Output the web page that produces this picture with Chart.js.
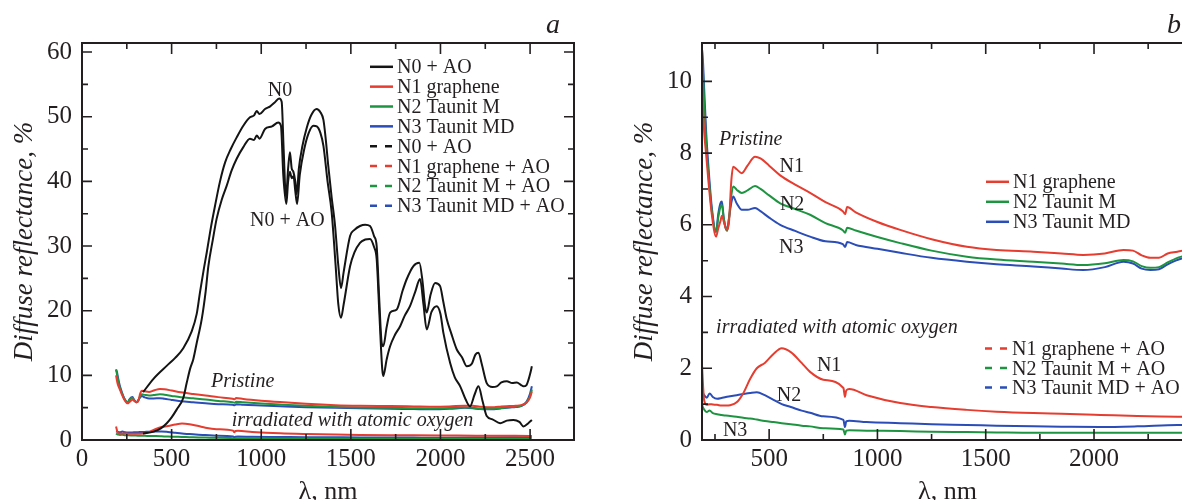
<!DOCTYPE html>
<html>
<head>
<meta charset="utf-8">
<script src="https://cdn.jsdelivr.net/npm/chart.js@4"></script>
<style>
  html, body { margin: 0; padding: 0; background: #fff; overflow: hidden; }
  #wrap { position: relative; width: 1182px; height: 500px; overflow: hidden; background: #fff; }
  canvas { position: absolute; top: 0; }
</style>
</head>
<body>
<div id="wrap">
  <canvas id="chartA" width="600" height="510" style="left:0px;width:600px;height:510px"></canvas>
  <canvas id="chartB" width="588" height="510" style="left:610px;width:588px;height:510px"></canvas>
</div>
<script>
// ---------------- DATA ----------------
// Pristine samples (shared wavelength grid, nm)
const wlPristine = [190,195,200,210,220,235,255,265,275,282,290,300,306,315,325,334,350,374,400,435,460,500,551,620,689,760,840,851,860,900,1000,1105,1250,1413,1550,1720,1850,1950,2050,2136,2180,2220,2260,2300,2340,2385,2420,2450,2480,2500,2510];
const n1Pristine = [10.0,9.2,8.6,7.9,7.2,6.3,5.67,5.9,6.1,6.25,6.1,5.9,5.86,6.1,7.2,7.62,7.55,7.44,7.65,7.9,7.85,7.65,7.38,7.12,6.89,6.63,6.38,6.3,6.5,6.35,6.08,5.86,5.6,5.39,5.3,5.25,5.2,5.16,5.2,5.3,5.28,5.15,5.08,5.08,5.2,5.25,5.3,5.4,5.8,6.6,7.5];
const n2Pristine = [10.9,10.2,9.4,8.2,7.4,6.4,5.81,6.2,6.5,6.55,6.2,5.9,5.83,6.2,6.8,7.07,6.98,6.89,6.96,7.08,7.0,6.82,6.6,6.44,6.28,6.05,5.85,5.78,5.92,5.84,5.66,5.49,5.28,5.11,5.03,4.97,4.92,4.88,4.93,5.02,4.98,4.85,4.8,4.82,4.95,5.08,5.15,5.3,5.8,6.8,7.8];
const n3Pristine = [10.9,10.5,9.8,8.5,7.6,6.5,5.8,6.3,6.6,6.65,6.2,5.9,5.85,6.2,6.6,6.79,6.6,6.42,6.42,6.47,6.38,6.2,6.0,5.83,5.67,5.54,5.46,5.38,5.52,5.44,5.33,5.22,5.08,4.97,4.9,4.84,4.78,4.74,4.82,4.97,4.92,4.78,4.74,4.76,4.9,5.02,5.1,5.25,5.9,7.2,8.3];

// Samples irradiated with atomic oxygen
const wlAO = [190,195,200,212,225,240,260,280,300,320,350,380,412,443,480,520,558,600,650,689,750,843,850,856,870,950,1105,1250,1413,1550,1720,1850,2028,2200,2385,2500,2510];
const n1AO = [2.1,1.5,1.1,0.98,1.0,0.99,0.98,0.96,0.96,0.97,1.05,1.3,1.7,2.0,2.15,2.4,2.56,2.45,2.15,1.9,1.68,1.45,1.2,1.38,1.42,1.25,1.03,0.92,0.84,0.79,0.75,0.73,0.7,0.67,0.65,0.63,0.62];
const n2AO = [1.0,0.9,0.85,0.78,0.82,0.75,0.72,0.7,0.68,0.67,0.65,0.62,0.6,0.57,0.53,0.5,0.47,0.44,0.4,0.38,0.33,0.29,0.15,0.26,0.27,0.26,0.25,0.23,0.22,0.21,0.2,0.2,0.2,0.2,0.2,0.21,0.22];
const n3AO = [1.35,1.3,1.25,1.18,1.3,1.2,1.15,1.17,1.2,1.22,1.25,1.28,1.31,1.33,1.25,1.12,1.0,0.92,0.82,0.76,0.66,0.56,0.36,0.52,0.54,0.5,0.47,0.44,0.42,0.4,0.38,0.37,0.36,0.38,0.42,0.45,0.5];

// N0 reference sample (pristine) and N0 + AO
const wlN0 = [341,400,474,520,565,612,640,658,680,696,720,742,770,798,830,863,900,937,960,975,990,1021,1050,1075,1100,1114,1125,1138,1150,1160,1170,1179,1190,1198,1210,1230,1254,1280,1309,1330,1347,1360,1374,1393,1412,1430,1445,1460,1496,1520,1551,1580,1607,1630,1644,1658,1672,1681,1700,1719,1756,1790,1812,1849,1882,1900,1914,1923,1945,1970,1998,2015,2035,2060,2091,2120,2147,2175,2195,2212,2230,2258,2290,2314,2340,2370,2400,2426,2450,2463,2480,2491,2500,2510];
const n0 = [7.4,9.5,11.5,12.7,14.2,16.8,19.5,22.8,26.5,29,33,36.2,40,42.9,45,46.8,48.6,49.9,50.2,50.9,50.4,51.2,51.6,52.2,52.8,52.3,45,37.5,42,44.5,42,41.5,40,38,42,45.5,48.3,50.3,51.2,50.7,49.5,46.5,42.4,37.5,33.1,27,23.5,26,31.6,32.5,33.1,33.3,33.1,31.5,30,22,15,14.5,17.5,19.7,20.2,23.2,24.9,26.9,27.4,24.5,20.7,19.7,22.5,24.3,23.8,21.5,18.7,16.5,14,12.8,11.4,11.8,13.2,13.5,11.8,8.8,8.2,8.3,8.9,9.1,8.8,8.9,8.5,8.3,8.5,9.3,10.2,11.4];
const wlN0AO = [340,400,440,473,500,528,565,584,603,621,640,668,690,705,730,751,780,807,835,863,900,937,960,975,990,1021,1060,1095,1110,1123,1140,1150,1160,1170,1180,1190,1200,1215,1240,1265,1291,1310,1330,1347,1370,1393,1415,1430,1445,1460,1496,1520,1551,1580,1607,1630,1644,1660,1675,1681,1700,1719,1745,1775,1800,1830,1860,1886,1905,1923,1950,1979,2000,2016,2054,2080,2110,2140,2165,2190,2212,2235,2258,2290,2333,2370,2407,2440,2463,2490,2510];
const n0AO = [1.0,1.3,1.8,2.6,3.5,4.7,6.5,8.8,11,12.5,15,18.7,23,26.9,31,34.2,37.2,39.3,41.7,43.5,45.3,46.6,46.4,47.1,46.6,48.1,48.5,49.1,48.6,41,36.5,40,41.5,40.5,40.8,38.5,36.5,41,45,47.5,48.6,48.5,47.5,45.5,40,35.2,27,21,18.9,21,26.9,29,30.5,31,31.1,29.8,28,19,11,9.9,12.5,14.5,16.2,17.6,19.2,20.7,23,24.9,21,17.1,19.8,20.7,19.5,16.6,11.9,9.7,8.3,6.3,5.2,7,8.3,6,3.7,3.2,2.6,3,3.1,2.8,2.1,2.6,3.1];

// Tick labels
const xTicksA = [0,500,1000,1500,2000,2500];
const yTicksA = [0,10,20,30,40,50,60];
const xTicksB = [500,1000,1500,2000];
const yTicksB = [0,2,4,6,8,10];

// Legend labels
const legendLabelsA = ['N0 + AO','N1 graphene','N2 Taunit M','N3 Taunit MD','N0 + AO','N1 graphene + AO','N2 Taunit M + AO','N3 Taunit MD + AO'];
const legendLabelsB1 = ['N1 graphene','N2 Taunit M','N3 Taunit MD'];
const legendLabelsB2 = ['N1 graphene + AO','N2 Taunit M + AO','N3 Taunit MD + AO'];

// ---------------- STYLE ----------------
const FONT = "'Liberation Serif', 'Times New Roman', serif";
const TXT = '#231f20';
const RED = '#e53d30', GREEN = '#1e9440', BLUE = '#2a4db8', BLACK = '#141414';
Chart.defaults.font.family = FONT;
Chart.defaults.color = TXT;

const pts = (xs, ys) => xs.map((x, i) => ({x, y: ys[i]}));
const ds = (xs, ys, color, w) => ({
  data: pts(xs, ys), borderColor: color, borderWidth: w || 2, pointRadius: 0,
  fill: false, cubicInterpolationMode: 'monotone', clip: 2
});

const frameTicks = {
  id: 'frameTicks',
  afterDraw(chart, args, o) {
    const {ctx, chartArea: a, scales: {x, y}} = chart;
    ctx.save();
    ctx.strokeStyle = TXT;
    ctx.lineWidth = 2;
    ctx.beginPath();
    ctx.moveTo(a.right + (o.right ? 0 : 30), a.top);
    ctx.lineTo(a.left, a.top);
    ctx.lineTo(a.left, a.bottom);
    ctx.lineTo(a.right + (o.right ? 0 : 30), a.bottom);
    if (o.right) { ctx.lineTo(a.right, a.top); ctx.closePath(); }
    ctx.stroke();
    ctx.lineWidth = 1.6;
    ctx.beginPath();
    const isMajor = (v, m) => Math.abs(v / m - Math.round(v / m)) < 1e-6;
    for (let v = Math.ceil(x.min / o.xMinor) * o.xMinor; v <= x.max; v += o.xMinor) {
      const p = x.getPixelForValue(v);
      if (p < a.left + 3 || p > a.right - 3) continue;
      const len = isMajor(v, o.xMajor) ? 11 : 6;
      ctx.moveTo(p, a.bottom); ctx.lineTo(p, a.bottom - len);
      ctx.moveTo(p, a.top); ctx.lineTo(p, a.top + len);
    }
    for (let v = Math.ceil(y.min / o.yMinor) * o.yMinor; v <= y.max; v += o.yMinor) {
      const p = y.getPixelForValue(v);
      if (p > a.bottom - 3 || p < a.top + 3) continue;
      const len = isMajor(v, o.yMajor) ? 10 : 6;
      ctx.moveTo(a.left, p); ctx.lineTo(a.left + len, p);
      if (o.right) { ctx.moveTo(a.right, p); ctx.lineTo(a.right - len, p); }
    }
    ctx.stroke();
    ctx.restore();
  }
};

const notes = {
  id: 'notes',
  afterDraw(chart, args, o) {
    const {ctx, scales: {x, y}} = chart;
    ctx.save();
    ctx.fillStyle = TXT;
    ctx.textAlign = 'center';
    ctx.textBaseline = 'alphabetic';
    for (const n of o.items) {
      ctx.font = (n.italic ? 'italic ' : '') + '20px ' + FONT;
      ctx.fillText(n.text, x.getPixelForValue(n.x), y.getPixelForValue(n.y));
    }
    if (o.letter) {
      ctx.font = 'italic 28px ' + FONT;
      ctx.textAlign = 'right';
      ctx.fillText(o.letter.text, o.letter.x, o.letter.y);
    }
    ctx.restore();
  }
};

const keys = {
  id: 'keys',
  afterDraw(chart, args, o) {
    const {ctx, chartArea: a} = chart;
    ctx.save();
    ctx.font = '20px ' + FONT;
    ctx.fillStyle = TXT;
    ctx.textAlign = 'left';
    ctx.textBaseline = 'alphabetic';
    for (const g of o.groups) {
      g.items.forEach((it, i) => {
        const by = a.top + g.dy + i * g.row;
        const lx = a.left + g.dx;
        ctx.strokeStyle = it.color;
        ctx.lineWidth = 2.5;
        ctx.setLineDash(it.dashed ? [7, 8] : []);
        ctx.beginPath();
        ctx.moveTo(lx, by - 6.5); ctx.lineTo(lx + 23, by - 6.5);
        ctx.stroke();
        ctx.setLineDash([]);
        ctx.fillText(it.text, lx + 27, by);
      });
    }
    ctx.restore();
  }
};

function axes(xmin, xmax, ymin, ymax, xt, yt, yW, yTitlePad) {
  return {
    x: {
      type: 'linear', min: xmin, max: xmax,
      grid: {display: false, drawTicks: false}, border: {display: false},
      afterBuildTicks: s => { s.ticks = xt.map(v => ({value: v})); },
      afterFit: s => { s.height = 70; },
      ticks: {font: {size: 25}, padding: 4, maxRotation: 0, autoSkip: false, callback: v => String(v)},
      title: {display: true, text: 'λ, nm', font: {size: 26, lineHeight: 1.2}, padding: {top: 0, bottom: 2}}
    },
    y: {
      type: 'linear', min: ymin, max: ymax,
      grid: {display: false, drawTicks: false}, border: {display: false},
      afterBuildTicks: s => { s.ticks = yt.map(v => ({value: v})); },
      afterFit: s => { s.width = yW; },
      ticks: {font: {size: 25}, padding: 10, autoSkip: false, callback: v => String(v)},
      title: {display: true, text: 'Diffuse reflectance, %', font: {size: 27, style: 'italic', lineHeight: 1.2}, padding: {top: yTitlePad, bottom: 0}}
    }
  };
}

const common = {
  responsive: false, animation: false, devicePixelRatio: 1,
  plugins: {legend: {display: false}, tooltip: {enabled: false}}
};

// ---------------- PANEL a ----------------
new Chart(document.getElementById('chartA'), {
  type: 'line',
  data: {datasets: [
    ds(wlN0, n0, BLACK), ds(wlN0AO, n0AO, BLACK),
    ds(wlPristine, n1Pristine, RED), ds(wlPristine, n2Pristine, GREEN), ds(wlPristine, n3Pristine, BLUE),
    ds(wlAO, n1AO, RED), ds(wlAO, n2AO, GREEN), ds(wlAO, n3AO, BLUE)
  ]},
  options: Object.assign({}, common, {
    layout: {padding: {left: 0, top: 43, right: 26, bottom: 0}},
    scales: axes(0, 2745, 0, 61.4, xTicksA, yTicksA, 82, 9),
    plugins: Object.assign({}, common.plugins, {
      frameTicks: {right: true, xMinor: 250, xMajor: 500, yMinor: 5, yMajor: 10},
      notes: {
        items: [
          {text: 'N0', x: 1105, y: 53.2},
          {text: 'N0 + AO', x: 1146, y: 33.1},
          {text: 'Pristine', x: 896, y: 8.26, italic: true},
          {text: 'irradiated with atomic oxygen', x: 1509, y: 2.1, italic: true}
        ],
        letter: {text: 'a', x: 560, y: 33}
      },
      keys: {groups: [{dx: 288, dy: 30.3, row: 19.85, items: legendLabelsA.map((t, i) => ({
        text: t, color: [BLACK, RED, GREEN, BLUE][i % 4], dashed: i >= 4
      }))}]}
    })
  }),
  plugins: [frameTicks, notes, keys]
});

// ---------------- PANEL b ----------------
new Chart(document.getElementById('chartB'), {
  type: 'line',
  data: {datasets: [
    ds(wlPristine, n1Pristine, RED), ds(wlPristine, n2Pristine, GREEN), ds(wlPristine, n3Pristine, BLUE),
    ds(wlAO, n1AO, RED), ds(wlAO, n2AO, GREEN), ds(wlAO, n3AO, BLUE)
  ]},
  options: Object.assign({}, common, {
    layout: {padding: {left: 0, top: 43, right: 5, bottom: 0}},
    scales: axes(190, 2457, 0, 11.07, xTicksB, yTicksB, 92, 19),
    plugins: Object.assign({}, common.plugins, {
      frameTicks: {right: false, xMinor: 250, xMajor: 500, yMinor: 1, yMajor: 2},
      notes: {
        items: [
          {text: 'Pristine', x: 415, y: 8.23, italic: true},
          {text: 'N1', x: 604, y: 7.46},
          {text: 'N2', x: 606, y: 6.42},
          {text: 'N3', x: 602, y: 5.22},
          {text: 'irradiated with atomic oxygen', x: 813, y: 2.98, italic: true},
          {text: 'N1', x: 777, y: 1.93},
          {text: 'N2', x: 592, y: 1.10},
          {text: 'N3', x: 343, y: 0.11}
        ],
        letter: {text: 'b', x: 571, y: 33}
      },
      keys: {groups: [
        {dx: 284, dy: 145.3, row: 20, items: legendLabelsB1.map((t, i) => ({text: t, color: [RED, GREEN, BLUE][i], dashed: false}))},
        {dx: 283, dy: 312, row: 19.5, items: legendLabelsB2.map((t, i) => ({text: t, color: [RED, GREEN, BLUE][i], dashed: true}))}
      ]}
    })
  }),
  plugins: [frameTicks, notes, keys]
});
</script>
</body>
</html>
